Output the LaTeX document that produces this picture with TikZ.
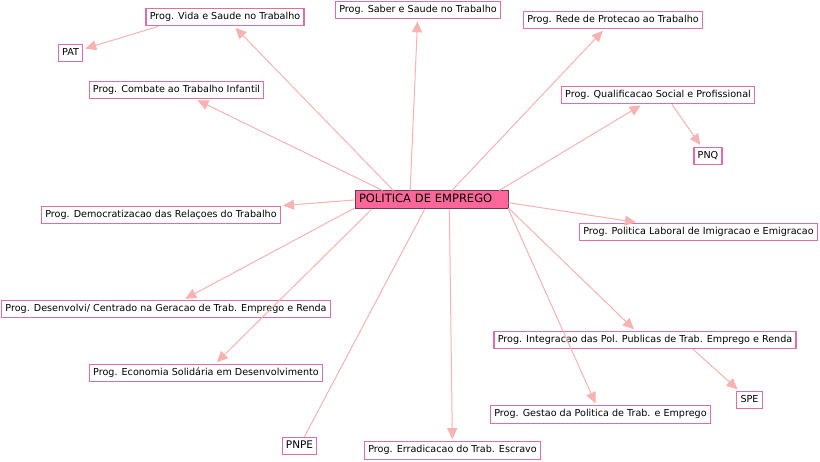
\documentclass[tikz,border=0pt]{standalone}
\usepackage{fontspec}
\setmainfont{DejaVu Sans}
\usetikzlibrary{arrows.meta}
\definecolor{boxpink}{HTML}{DD6FA3}
\definecolor{linkpink}{HTML}{F7B2B2}
\definecolor{mainfill}{HTML}{FF6699}
\definecolor{mainedge}{HTML}{6B3A4E}
\tikzset{
  prog/.style={draw=boxpink,line width=1.2pt,fill=white,inner xsep=3.8pt,inner ysep=4pt,
    text height=7.2pt,text depth=2.3pt,font=\fontsize{9.6}{11}\selectfont},
  link/.style={draw=linkpink,line width=1pt,-{Triangle[length=11pt,width=10pt]},shorten >=2pt},
  bareline/.style={draw=linkpink,line width=1pt}
}
\begin{document}
\begin{tikzpicture}[x=1pt,y=-1pt]
\useasboundingbox (0,0) rectangle (820,462);

\node [draw=mainedge,line width=1pt,fill=mainfill,text width=145pt,align=left,inner xsep=4pt,inner ysep=3.5pt,
  text height=8.5pt,text depth=2.5pt,font=\fontsize{11.5}{13}\selectfont] (main) at (431.5,200) {POLITICA DE EMPREGO};

\node [prog] (vida) at (225,17) {Prog. Vida e Saude no Trabalho};
\node [prog] (pat) at (70.5,53) {PAT};
\node [prog] (combate) at (176.5,90) {Prog. Combate ao Trabalho Infantil};
\node [prog] (saber) at (418,10) {Prog. Saber e Saude no Trabalho};
\node [prog] (rede) at (613,20) {Prog. Rede de Protecao ao Trabalho};
\node [prog] (qualif) at (658,95) {Prog. Qualificacao Social e Profissional};
\node [prog] (pnq) at (708,156) {PNQ};
\node [prog] (democ) at (161,215) {Prog. Democratizacao das Relaçoes do Trabalho};
\node [prog] (laboral) at (698.5,232) {Prog. Politica Laboral de Imigracao e Emigracao};
\node [prog] (desenv) at (166,309) {Prog. Desenvolvi/ Centrado na Geracao de Trab. Emprego e Renda};
\node [prog] (integr) at (645,340) {Prog. Integracao das Pol. Publicas de Trab. Emprego e Renda};
\node [prog] (econ) at (206,373) {Prog. Economia Solidária em Desenvolvimento};
\node [prog] (spe) at (749.5,400) {SPE};
\node [prog] (gestao) at (600.5,414.5) {Prog. Gestao da Politica de Trab. e Emprego};
\node [prog,font=\fontsize{10.5}{12}\selectfont] (pnpe) at (299.5,446) {PNPE};
\node [prog] (erradic) at (452.5,450.5) {Prog. Erradicacao do Trab. Escravo};

\draw [link] (main.166) -- (vida);
\draw [link] (main.169) -- (combate);
\draw [link] (main.156) -- (saber);
\draw [link] (main.25) -- (rede);
\draw [link] (main.8) -- (qualif);
\draw [link] (main.180) -- (democ);
\draw [link] (main.358) -- (laboral);
\draw [link] (main.186) -- (desenv);
\draw [link] (main.189) -- (econ);
\draw [bareline] (main.234) -- (pnpe);
\draw [link] (main.332) -- (erradic);
\draw [link] (main.353) -- (gestao);
\draw [link] (main.354) -- (integr);

\draw [link] (vida.188) -- (pat);
\draw [link] (qualif.326) -- (pnq);
\draw [link] (integr.349) -- (spe);

\end{tikzpicture}
\end{document}
